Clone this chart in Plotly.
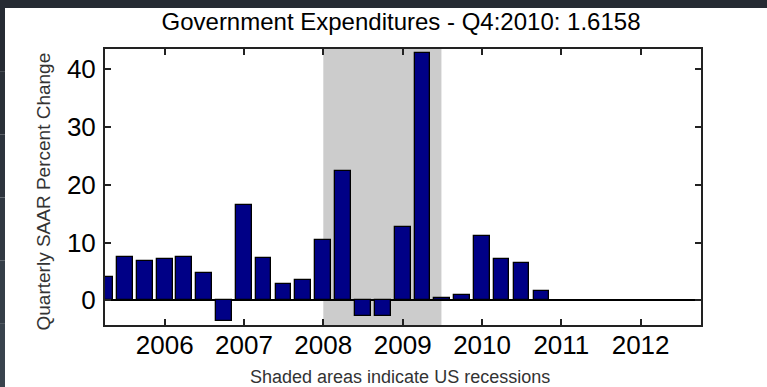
import plotly.graph_objects as go

# Quarter start dates (Q2 2005 .. Q4 2010)
quarters = ["2005-04-01", "2005-07-01", "2005-10-01",
            "2006-01-01", "2006-04-01", "2006-07-01", "2006-10-01",
            "2007-01-01", "2007-04-01", "2007-07-01", "2007-10-01",
            "2008-01-01", "2008-04-01", "2008-07-01", "2008-10-01",
            "2009-01-01", "2009-04-01", "2009-07-01", "2009-10-01",
            "2010-01-01", "2010-04-01", "2010-07-01", "2010-10-01"]
pct_change = [4.0, 7.55, 6.75,
              7.15, 7.55, 4.67, -3.58,
              16.44, 7.38, 2.88, 3.58,
              10.44, 22.37, -2.71, -2.71,
              12.63, 42.73, 0.46, 0.92,
              11.07, 7.15, 6.52, 1.6158]
recession_start = "2008-01-01"
recession_end = "2009-06-28"
year_ticks = ["2006-01-01", "2007-01-01", "2008-01-01", "2009-01-01",
              "2010-01-01", "2011-01-01", "2012-01-01"]
year_labels = ["2006", "2007", "2008", "2009", "2010", "2011", "2012"]

W, H = 767, 387
L, R, T, B = 105, 66, 49, 62
pw, ph = W - L - R, H - T - B

def px(x):
    return (x - L) / pw

def py(y):
    return (H - B - y) / ph

DAY_MS = 86400000

fig = go.Figure()
fig.add_trace(go.Bar(
    x=quarters, y=pct_change,
    width=[72 * DAY_MS] * len(quarters),
    marker=dict(color="#000086", line=dict(color="black", width=1.3)),
    showlegend=False,
))

shapes = [
    dict(type="rect", xref="x", yref="paper", x0=recession_start, x1=recession_end,
         y0=0, y1=1, fillcolor="#cccccc", line=dict(width=0), layer="below"),
    # dark frame strips (top and left)
    dict(type="rect", xref="paper", yref="paper", x0=px(0), x1=px(W), y0=py(8), y1=py(0),
         fillcolor="#262b33", line=dict(width=0), layer="above"),
]
steps = 6
cols = ["#262b33", "#2a3038", "#2d343d", "#313942", "#353e48", "#39434d"]
for i in range(steps):
    y_top = 8 + i * (H - 8) / steps
    y_bot = 8 + (i + 1) * (H - 8) / steps
    shapes.append(dict(type="rect", xref="paper", yref="paper", x0=px(0), x1=px(5),
                       y0=py(y_bot), y1=py(y_top), fillcolor=cols[i],
                       line=dict(width=0), layer="above"))

fig.update_layout(
    width=W, height=H,
    margin=dict(l=L, r=R, t=T, b=B),
    paper_bgcolor="white", plot_bgcolor="white",
    font=dict(family="Liberation Sans, Arial, sans-serif", color="black"),
    title=dict(text="Government Expenditures - Q4:2010: 1.6158",
               x=px(401), xref="paper", xanchor="center",
               y=1 - 22 / H, yref="container", yanchor="middle",
               font=dict(size=24, color="black")),
    shapes=shapes,
    bargap=0,
    annotations=[
        dict(text="Quarterly SAAR Percent Change", xref="paper", yref="paper",
             x=px(43), y=py(191.5), textangle=-90, showarrow=False,
             xanchor="center", yanchor="middle",
             font=dict(size=19, color="#333333")),
        dict(text="Shaded areas indicate US recessions", xref="paper", yref="paper",
             x=px(400), y=py(376.5), showarrow=False, xanchor="center", yanchor="middle",
             font=dict(size=18, color="#333333")),
    ],
)

fig.update_xaxes(
    type="date",
    range=["2005-04-01", "2012-10-05"],
    tickvals=year_ticks, ticktext=year_labels,
    ticks="inside", ticklen=6, tickwidth=1.5, tickcolor="#222222",
    showline=True, linecolor="#222222", linewidth=2, mirror="ticks",
    showgrid=False, zeroline=False,
    tickfont=dict(size=26, color="black"),
    ticklabelstandoff=-4,
)
fig.update_yaxes(
    range=[-4.27, 43.5],
    tickvals=[0, 10, 20, 30, 40],
    ticks="inside", ticklen=6, tickwidth=1.5, tickcolor="#222222",
    showline=True, linecolor="#222222", linewidth=2, mirror="ticks",
    showgrid=False, zeroline=True, zerolinecolor="black", zerolinewidth=1.5,
    tickfont=dict(size=26, color="black"),
    ticklabelstandoff=2,
)

fig.write_html("out.html",
               config={"displayModeBar": False},
               post_script="document.body.style.margin='0';document.body.style.overflow='hidden';")
